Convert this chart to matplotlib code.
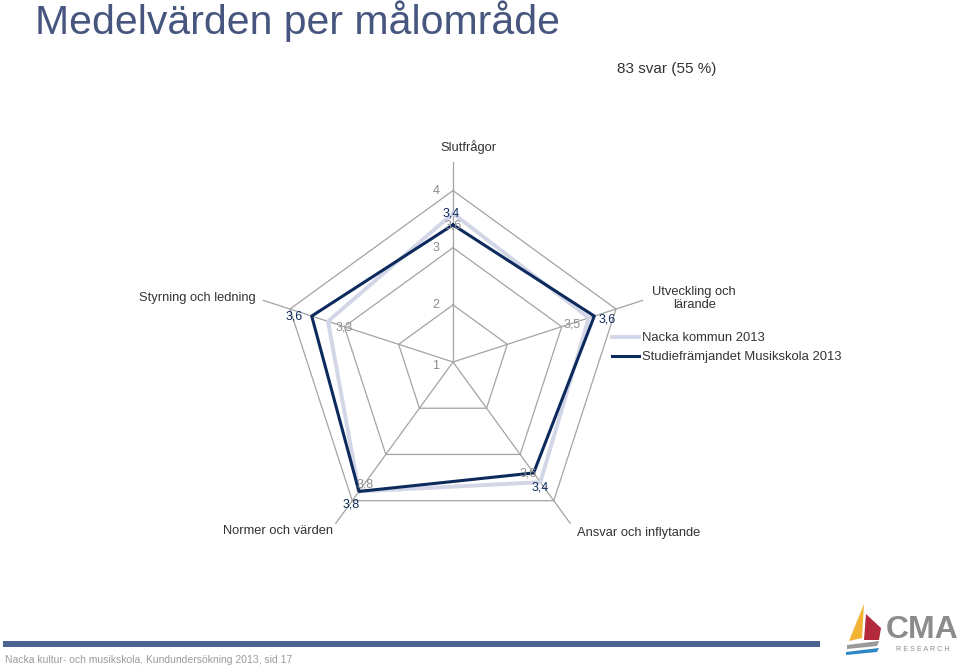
import numpy as np
import matplotlib.pyplot as plt
from matplotlib.patches import Polygon, Rectangle

plt.rcParams['font.family'] = ['Liberation Sans', 'DejaVu Sans']

categories = ['Slutfrågor', 'Utveckling och\nlärande', 'Ansvar och inflytande',
              'Normer och värden', 'Styrning och ledning']
nacka = [3.6, 3.5, 3.6, 3.8, 3.3]
studie = [3.4, 3.6, 3.4, 3.8, 3.6]
series_names = ['Nacka kommun 2013', 'Studiefrämjandet Musikskola 2013']
levels = [1, 2, 3, 4]

light = '#d2d6e6'
dark = '#0c2a5c'
gridc = '#a3a3a3'

fig = plt.figure(figsize=(9.59, 6.68), dpi=100)
W, H = 959, 668

# polar axes, centre (453, 362) px, radius 200 px
cx, cy, R = 453, 362, 200
ax = fig.add_axes([(cx - R) / W, (H - cy - R) / H, 2 * R / W, 2 * R / H],
                  projection='polar')
ax.set_theta_zero_location('N')
ax.set_theta_direction(-1)
ax.set_rlim(1, 4.5)
ax.set_xticks([])
ax.set_yticks([])
ax.grid(False)
ax.spines['polar'].set_visible(False)
ax.patch.set_alpha(0)

angles = np.linspace(0, 2 * np.pi, len(categories), endpoint=False)
closed = np.append(angles, angles[0])

# pentagon grid + spokes
for lv in levels[1:]:
    ax.plot(closed, [lv] * len(closed), color=gridc, lw=0.9, zorder=1)
for a in angles:
    ax.plot([a, a], [1, 4.5], color=gridc, lw=0.9, zorder=1)

# radial tick labels
for lv in levels:
    dy = -4 if lv == 1 else 0
    ax.annotate(str(lv), (0, lv), xytext=(-17, dy), textcoords='offset pixels',
                ha='center', va='center', fontsize=9, color='#8a8a8a')

ax.plot(closed, nacka + nacka[:1], color=light, lw=2.8, zorder=2,
        label=series_names[0])
ax.plot(closed, studie + studie[:1], color=dark, lw=2.2, zorder=3,
        label=series_names[1])

def fmt(v):
    return f'{v:.1f}'.replace('.', ',')

nacka_off = [(0, -12), (-17, -7), (-12, 9), (6, 7), (16, -6)]
studie_off = [(-2, 11), (13, -3), (7, -15), (-8, -13), (-18, 0)]
for a, v, o in zip(angles, nacka, nacka_off):
    ax.annotate(fmt(v), (a, v), xytext=o, textcoords='offset pixels',
                ha='center', va='center', fontsize=9, color='#8f8f8f', zorder=4)
for a, v, o in zip(angles, studie, studie_off):
    ax.annotate(fmt(v), (a, v), xytext=o, textcoords='offset pixels',
                ha='center', va='center', fontsize=9, color=dark, zorder=5)

# category labels
cat_pos = [((15, 15), 'center'), ((51, 2), 'center'), ((68, -9), 'center'),
           ((-2, -7), 'right'), ((-7, 2), 'right')]
for a, lab, (o, ha) in zip(angles, categories, cat_pos):
    ax.annotate(lab, (a, 4.5), xytext=o, textcoords='offset pixels',
                ha=ha, va='center', fontsize=9.3, color='#333333',
                linespacing=1.1, annotation_clip=False)

fig.legend(loc='upper left', bbox_to_anchor=(612 / W, 1 - 332 / H), frameon=False,
           fontsize=9.4, handlelength=2.1, handletextpad=0.2, labelspacing=0.55,
           labelcolor='#333333', borderaxespad=0, borderpad=0)

# title and header
fig.text(35 / W, 1 - 21 / H, 'Medelvärden per målområde', fontsize=29.5,
         color='#46567f', ha='left', va='center')
fig.text(716 / W, 1 - 69 / H, '83 svar (55 %)', fontsize=11,
         color='#333333', ha='right', va='center')

# footer
fig.add_artist(Rectangle((3 / W, 1 - 647 / H), 817 / W, 6 / H,
                         transform=fig.transFigure, color='#4e6490', lw=0))
fig.text(5 / W, 1 - 660 / H, 'Nacka kultur- och musikskola, Kundundersökning 2013, sid 17',
         fontsize=7.5, color='#9a9a9a', ha='left', va='center')

# logo
def fpoly(pts, color):
    fig.add_artist(Polygon([(x / W, 1 - y / H) for x, y in pts], closed=True,
                           transform=fig.transFigure, color=color, lw=0))

fpoly([(864, 604), (849, 641), (862, 638)], '#f2b233')
fpoly([(866, 614), (881, 628), (879, 640), (864, 640)], '#b3283a')
fpoly([(847, 645), (879, 641), (877, 646), (847, 649)], '#9a9a9a')
fpoly([(846, 652), (879, 648), (877, 652), (846, 655)], '#2f86c5')
fig.text(922 / W, 1 - 638 / H, 'CMA', fontsize=23, fontweight='bold',
         color='#8c8c8c', ha='center', va='baseline')
fig.text(923 / W, 1 - 646 / H, 'R E S E A R C H', fontsize=5.2,
         color='#8c8c8c', ha='center', va='top')

fig.savefig('out.png', dpi=100)
